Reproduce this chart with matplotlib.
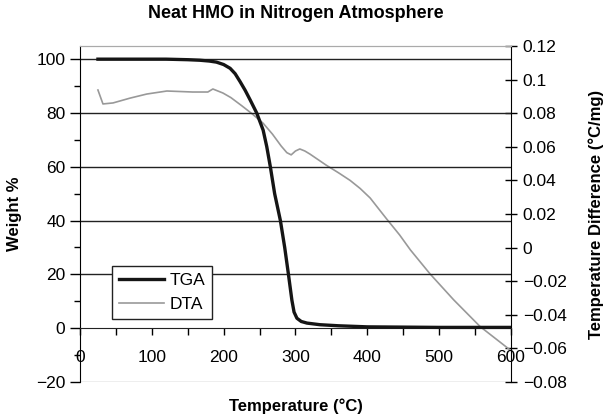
import matplotlib
matplotlib.use("Agg")
import matplotlib.pyplot as plt
from matplotlib.ticker import MultipleLocator

plt.rcParams['font.family'] = ['Liberation Sans', 'DejaVu Sans']

# TGA: weight % vs temperature
tga_t = [25, 120, 150, 167, 180, 190, 200, 209, 216, 223, 230, 237, 246, 255, 260,
         265, 271, 279, 285, 290, 295, 298, 302, 308, 316, 334, 360, 400, 450, 500,
         550, 600]
tga_w = [100, 100, 99.8, 99.6, 99.3, 98.9, 98.0, 96.6, 94.6, 91.6, 88.4, 84.8, 80,
         73.6, 67.5, 60, 50, 40, 30, 20.4, 10.4, 6.0, 3.7, 2.5, 1.9, 1.3, 0.9, 0.5,
         0.4, 0.3, 0.3, 0.3]

# DTA: temperature difference (°C/mg) vs temperature
dta_t = [25, 32, 46, 70, 93, 121, 157, 178, 185, 199, 210, 225, 240, 255, 268, 280,
         288, 294, 300, 306, 313, 320, 343, 360, 376, 390, 404, 415, 427, 445, 460,
         487, 520, 557, 599]
dta_v = [0.0938, 0.0855, 0.0861, 0.089, 0.0914, 0.0932, 0.0926, 0.0926, 0.0944,
         0.092, 0.0893, 0.0845, 0.0795, 0.074, 0.0675, 0.0605, 0.0565, 0.0552, 0.0575,
         0.0587, 0.0575, 0.0557, 0.049, 0.0445, 0.040, 0.0352, 0.0295, 0.0235, 0.0170,
         0.0075, -0.0014, -0.0155, -0.031, -0.047, -0.061]

fig = plt.figure(figsize=(6.1, 4.15), dpi=100)
ax = fig.add_axes([0.1311, 0.0795, 0.7066, 0.8097])
ax2 = ax.twinx()

ax.set_xlim(0, 600)
ax.set_ylim(-20, 104.9)
ax2.set_ylim(-0.08, 0.12)

for g in [20, 40, 60, 80, 100]:
    ax.axhline(g, color='#222222', lw=1.0, zorder=1)
ax.axhline(-20, color='#aaaaaa', lw=1.0, zorder=1)

ax2.plot(dta_t, dta_v, color='#999999', lw=1.2, label='DTA', zorder=2)
ax.plot(tga_t, tga_w, color='#151515', lw=2.4, label='TGA', zorder=3)

ax.set_zorder(ax2.get_zorder() + 1)
ax.patch.set_visible(False)

# x axis sits at weight 0
ax.spines['bottom'].set_position(('data', 0))
ax.spines['bottom'].set_color('#222222')
for a in (ax, ax2):
    a.spines['top'].set_color('#aaaaaa')
ax2.spines['bottom'].set_visible(False)
ax2.spines['left'].set_visible(False)
ax.spines['right'].set_visible(False)

ax.xaxis.set_major_locator(MultipleLocator(100))
ax.xaxis.set_minor_locator(MultipleLocator(50))
ax.tick_params(axis='x', which='both', direction='out', length=5, width=1,
               labelsize=12.5, pad=11)
ax.yaxis.set_major_locator(MultipleLocator(20))
ax.yaxis.set_minor_locator(MultipleLocator(10))
ax.tick_params(axis='y', which='major', direction='out', length=7, width=1, labelsize=12.5)
ax.tick_params(axis='y', which='minor', direction='out', length=4, width=1)
ax.set_yticks([-20, 0, 20, 40, 60, 80, 100])
ax.set_yticklabels(['\u221220', '0', '20', '40', '60', '80', '100'])

ax2.set_yticks([-0.08, -0.06, -0.04, -0.02, 0, 0.02, 0.04, 0.06, 0.08, 0.1, 0.12])
ax2.set_yticklabels(['\u22120.08', '\u22120.06', '\u22120.04', '\u22120.02', '0',
                     '0.02', '0.04', '0.06', '0.08', '0.1', '0.12'])
ax2.tick_params(axis='y', direction='inout', length=9, width=1, labelsize=12.5, pad=4)

ax.set_xlabel('Temperature (\u00b0C)', fontsize=12, fontweight='bold')
ax.xaxis.set_label_coords(0.5, -0.048)
ax.set_ylabel('Weight %', fontsize=12, fontweight='bold', labelpad=10)
ax2.set_ylabel('Temperature Difference (\u00b0C/mg)', fontsize=12, fontweight='bold',
               labelpad=16)
ax.set_title('Neat HMO in Nitrogen Atmosphere', fontsize=13, fontweight='bold', pad=20)

h1, l1 = ax.get_legend_handles_labels()
h2, l2 = ax2.get_legend_handles_labels()
leg = ax.legend(h1 + h2, l1 + l2, loc='lower left', bbox_to_anchor=(0.074, 0.1875),
                borderaxespad=0, fontsize=12.5, fancybox=False, framealpha=1,
                edgecolor='#222222', handlelength=2.6, handletextpad=0.3,
                borderpad=0.4, labelspacing=0.5)
leg.get_frame().set_linewidth(1.0)

fig.savefig('out.png', dpi=100)
